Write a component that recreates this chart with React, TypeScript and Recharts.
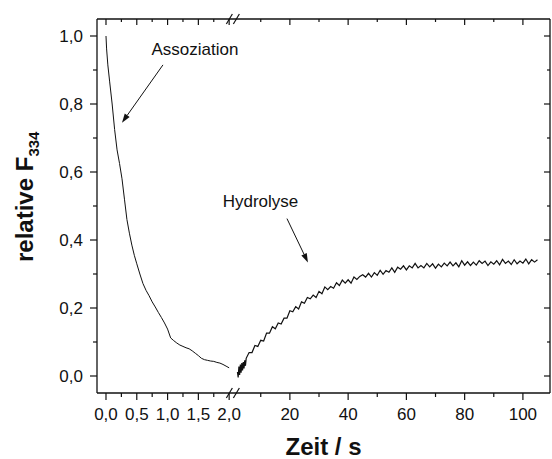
import React from 'react';
import {
    LineChart,
    Line,
    XAxis,
    YAxis,
    ReferenceLine,
    ReferenceDot,
} from 'recharts';

// association phase, 0..2 s
const LEFT_T = [
    0, 0.01, 0.03, 0.06, 0.1, 0.14, 0.18, 0.22, 0.26, 0.3, 0.34, 0.38, 0.42, 0.46, 0.5,
    0.55, 0.6, 0.65, 0.7, 0.75, 0.8, 0.85, 0.9, 0.95, 1.0, 1.05, 1.1, 1.15, 1.2, 1.25,
    1.3, 1.35, 1.4, 1.45, 1.5, 1.55, 1.6, 1.65, 1.7, 1.75, 1.8, 1.85, 1.9, 1.95, 2.0,
];
const LEFT_V = [
    1.0, 0.962, 0.915, 0.865, 0.8, 0.725, 0.665, 0.625, 0.58, 0.52, 0.46, 0.42, 0.385, 0.355, 0.33,
    0.3, 0.272, 0.252, 0.236, 0.218, 0.203, 0.187, 0.172, 0.156, 0.138, 0.112, 0.104, 0.097, 0.091, 0.087,
    0.083, 0.08, 0.074, 0.067, 0.06, 0.052, 0.048, 0.046, 0.044, 0.043, 0.04, 0.038, 0.034, 0.029, 0.024,
];

// hydrolysis phase, 2..105 s
const RIGHT_T = [
    2, 2.25, 2.5, 2.75, 3, 3.25, 3.5, 3.75, 4, 4.25, 4.5, 4.75, 5,
    6, 7, 8, 9, 10, 11, 12, 13, 14, 15, 16, 17, 18, 19, 20, 21, 22, 23, 24, 25,
    26, 27, 28, 29, 30, 31, 32, 33, 34, 35, 36, 37, 38, 39, 40, 41, 42, 43, 44, 45,
    46, 47, 48, 49, 50, 51, 52, 53, 54, 55, 56, 57, 58, 59, 60, 61, 62, 63, 64, 65,
    66, 67, 68, 69, 70, 71, 72, 73, 74, 75, 76, 77, 78, 79, 80, 81, 82, 83, 84, 85,
    86, 87, 88, 89, 90, 91, 92, 93, 94, 95, 96, 97, 98, 99, 100, 101, 102, 103, 104, 105,
];
const RIGHT_V = [
    0.012, -0.004, 0.028, 0.003, 0.034, 0.01, 0.038, 0.016, 0.041, 0.022, 0.046, 0.03, 0.052,
    0.069, 0.069, 0.09, 0.087, 0.105, 0.103, 0.126, 0.126, 0.145, 0.139,
    0.156, 0.153, 0.17, 0.17, 0.192, 0.189, 0.204, 0.197, 0.218, 0.214,
    0.231, 0.227, 0.238, 0.231, 0.249, 0.242, 0.262, 0.254, 0.263, 0.258,
    0.274, 0.266, 0.282, 0.273, 0.283, 0.273, 0.291, 0.284, 0.293, 0.298,
    0.291, 0.302, 0.291, 0.304, 0.296, 0.311, 0.299, 0.31, 0.305, 0.318,
    0.305, 0.32, 0.314, 0.324, 0.312, 0.324, 0.318, 0.331, 0.318, 0.325,
    0.318, 0.331, 0.321, 0.33, 0.317, 0.329, 0.321, 0.332, 0.324, 0.335,
    0.324, 0.333, 0.321, 0.339, 0.326, 0.336, 0.325, 0.335, 0.326, 0.339,
    0.331, 0.338, 0.325, 0.336, 0.329, 0.339, 0.327, 0.343, 0.331, 0.338,
    0.328, 0.342, 0.33, 0.338, 0.332, 0.344, 0.33, 0.342, 0.335, 0.342,
];

const LEFT_MAJOR = [0, 0.5, 1, 1.5, 2];
const LEFT_MINOR = [0.25, 0.75, 1.25, 1.75];
const RIGHT_MAJOR = [20, 40, 60, 80, 100];
const RIGHT_MINOR = [10, 30, 50, 70, 90];
const Y_MAJOR = [0, 0.2, 0.4, 0.6, 0.8, 1.0];
const Y_MINOR = [0.1, 0.3, 0.5, 0.7, 0.9];

// broken axis: the right part is squeezed and starts just after 2 s
const RIGHT_START_U = 2.04;
const RIGHT_U_PER_S = 0.0473;
const BREAK_U = 2.06;
const rightU = (t: number) => RIGHT_START_U + t * RIGHT_U_PER_S;

const INK = '#111';
const FONT = '"Liberation Sans", Arial, Helvetica, sans-serif';

const comma = (v: number) => v.toFixed(1).replace('.', ',');

const leftData = LEFT_T.map((t, i) => ({ u: t, v: LEFT_V[i] }));
const rightData = RIGHT_T.map((t, i) => ({ u: rightU(t), v: RIGHT_V[i] }));

type TickInfo = { major: boolean; label: string };
const xInfo = new Map<number, TickInfo>();
LEFT_MAJOR.forEach((t) => xInfo.set(t, { major: true, label: comma(t) }));
LEFT_MINOR.forEach((t) => xInfo.set(t, { major: false, label: '' }));
RIGHT_MAJOR.forEach((t) => xInfo.set(rightU(t), { major: true, label: String(t) }));
RIGHT_MINOR.forEach((t) => xInfo.set(rightU(t), { major: false, label: '' }));
const xTicks = Array.from(xInfo.keys()).sort((a, b) => a - b);

const yInfo = new Map<number, TickInfo>();
Y_MAJOR.forEach((v) => yInfo.set(v, { major: true, label: comma(v) }));
Y_MINOR.forEach((v) => yInfo.set(v, { major: false, label: '' }));
const yTicks = Array.from(yInfo.keys()).sort((a, b) => a - b);

const BottomTick = ({ x, y, payload }: any) => {
    const info = xInfo.get(payload.value);
    if (!info) return null;
    return (
        <g>
            <line x1={x} x2={x} y1={y} y2={y + (info.major ? 7 : 4)} stroke={INK} strokeWidth={1.2} />
            {info.major && (
                <text x={x} y={y + 27} textAnchor="middle" fontSize={17} fontFamily={FONT} fill={INK}>
                    {info.label}
                </text>
            )}
        </g>
    );
};

const TopTick = ({ x, y, payload }: any) => {
    const info = xInfo.get(payload.value);
    if (!info) return null;
    return <line x1={x} x2={x} y1={y} y2={y + (info.major ? 6 : 3)} stroke={INK} strokeWidth={1.2} />;
};

const LeftTick = ({ x, y, payload }: any) => {
    const info = yInfo.get(payload.value);
    if (!info) return null;
    return (
        <g>
            <line x1={x} x2={x - (info.major ? 7 : 4)} y1={y} y2={y} stroke={INK} strokeWidth={1.2} />
            {info.major && (
                <text x={x - 14} y={y + 6} textAnchor="end" fontSize={17} fontFamily={FONT} fill={INK}>
                    {info.label}
                </text>
            )}
        </g>
    );
};

const RightTick = ({ x, y, payload }: any) => {
    const info = yInfo.get(payload.value);
    if (!info) return null;
    return <line x1={x} x2={x - (info.major ? 6 : 3)} y1={y} y2={y} stroke={INK} strokeWidth={1.2} />;
};

const XTitle = (props: any) => {
    const vb = props.viewBox || {};
    return (
        <text x={vb.x + vb.width / 2} y={vb.y + 62} textAnchor="middle" fontSize={24} fontWeight="bold" fontFamily={FONT} fill={INK}>
            Zeit / s
        </text>
    );
};

const YTitle = () => (
    <text x={33} y={262} transform="rotate(-90 33 262)" fontSize={24} fontWeight="bold" fontFamily={FONT} fill={INK}>
        relative F
        <tspan dy={6} fontSize={15}>334</tspan>
    </text>
);

const Arrow = ({ x1, y1, x2, y2 }: any) => {
    const a = Math.atan2(y2 - y1, x2 - x1);
    const len = 9;
    const half = 3;
    const bx = x2 - len * Math.cos(a);
    const by = y2 - len * Math.sin(a);
    const pts = `${x2},${y2} ${bx + half * Math.sin(a)},${by - half * Math.cos(a)} ${bx - half * Math.sin(a)},${by + half * Math.cos(a)}`;
    return (
        <g>
            <line x1={x1} y1={y1} x2={bx} y2={by} stroke={INK} strokeWidth={1} />
            <polygon points={pts} fill={INK} />
        </g>
    );
};

const BreakMarks = ({ x1, y1, y2 }: any) => {
    const top = Math.min(y1, y2);
    const bottom = Math.max(y1, y2);
    return (
        <g>
            {[top, bottom].map((ay) => (
                <g key={ay}>
                    <rect x={x1 - 3.5} y={ay - 2} width={7} height={4} fill="#fff" />
                    <line x1={x1 - 6.5} y1={ay + 5} x2={x1 - 0.5} y2={ay - 5} stroke={INK} strokeWidth={1.2} />
                    <line x1={x1 + 0.5} y1={ay + 5} x2={x1 + 6.5} y2={ay - 5} stroke={INK} strokeWidth={1.2} />
                </g>
            ))}
        </g>
    );
};

const Note = (text: string) => ({ cx, cy }: any) => (
    <text x={cx} y={cy} textAnchor="middle" fontSize={17} fontFamily={FONT} fill={INK}>
        {text}
    </text>
);

export default function App() {
    const X_DOMAIN = [-0.146, 7.21];
    const Y_DOMAIN = [-0.05, 1.05];
    return (
        <div style={{ position: 'absolute', left: 0, top: 0, background: '#fff' }}>
            <LineChart width={552} height={459} margin={{ top: 0, right: 0, bottom: 0, left: 0 }}>
                <XAxis
                    xAxisId="bottom"
                    dataKey="u"
                    type="number"
                    domain={X_DOMAIN}
                    allowDataOverflow
                    ticks={xTicks}
                    interval={0}
                    height={66}
                    tickSize={0}
                    tickMargin={0}
                    tickLine={false}
                    tick={BottomTick}
                    axisLine={{ stroke: INK, strokeWidth: 1.3 }}
                    label={XTitle}
                />
                <XAxis
                    xAxisId="top"
                    orientation="top"
                    dataKey="u"
                    type="number"
                    domain={X_DOMAIN}
                    allowDataOverflow
                    ticks={xTicks}
                    interval={0}
                    height={19}
                    tickSize={0}
                    tickMargin={0}
                    tickLine={false}
                    tick={TopTick}
                    axisLine={{ stroke: INK, strokeWidth: 1.3 }}
                />
                <YAxis
                    yAxisId="left"
                    type="number"
                    domain={Y_DOMAIN}
                    allowDataOverflow
                    ticks={yTicks}
                    interval={0}
                    width={97}
                    tickSize={0}
                    tickMargin={0}
                    tickLine={false}
                    tick={LeftTick}
                    axisLine={{ stroke: INK, strokeWidth: 1.3 }}
                    label={YTitle}
                />
                <YAxis
                    yAxisId="right"
                    orientation="right"
                    type="number"
                    domain={Y_DOMAIN}
                    allowDataOverflow
                    ticks={yTicks}
                    interval={0}
                    width={2}
                    tickSize={0}
                    tickMargin={0}
                    tickLine={false}
                    tick={RightTick}
                    axisLine={{ stroke: INK, strokeWidth: 1.3 }}
                />
                <Line
                    xAxisId="bottom"
                    yAxisId="left"
                    data={leftData}
                    dataKey="v"
                    stroke={INK}
                    strokeWidth={1}
                    dot={false}
                    isAnimationActive={false}
                />
                <Line
                    xAxisId="bottom"
                    yAxisId="left"
                    data={rightData}
                    dataKey="v"
                    stroke={INK}
                    strokeWidth={1.2}
                    dot={false}
                    isAnimationActive={false}
                />
                <ReferenceLine xAxisId="bottom" yAxisId="left" x={BREAK_U} shape={BreakMarks} />
                <ReferenceLine
                    xAxisId="bottom"
                    yAxisId="left"
                    segment={[{ x: 0.925, y: 0.915 }, { x: 0.26, y: 0.745 }]}
                    shape={Arrow}
                />
                <ReferenceLine
                    xAxisId="bottom"
                    yAxisId="left"
                    segment={[{ x: rightU(19), y: 0.463 }, { x: rightU(26.2), y: 0.334 }]}
                    shape={Arrow}
                />
                <ReferenceDot xAxisId="bottom" yAxisId="left" x={1.445} y={0.943} r={0} shape={Note('Assoziation')} />
                <ReferenceDot xAxisId="bottom" yAxisId="left" x={rightU(9.9)} y={0.496} r={0} shape={Note('Hydrolyse')} />
            </LineChart>
        </div>
    );
}
